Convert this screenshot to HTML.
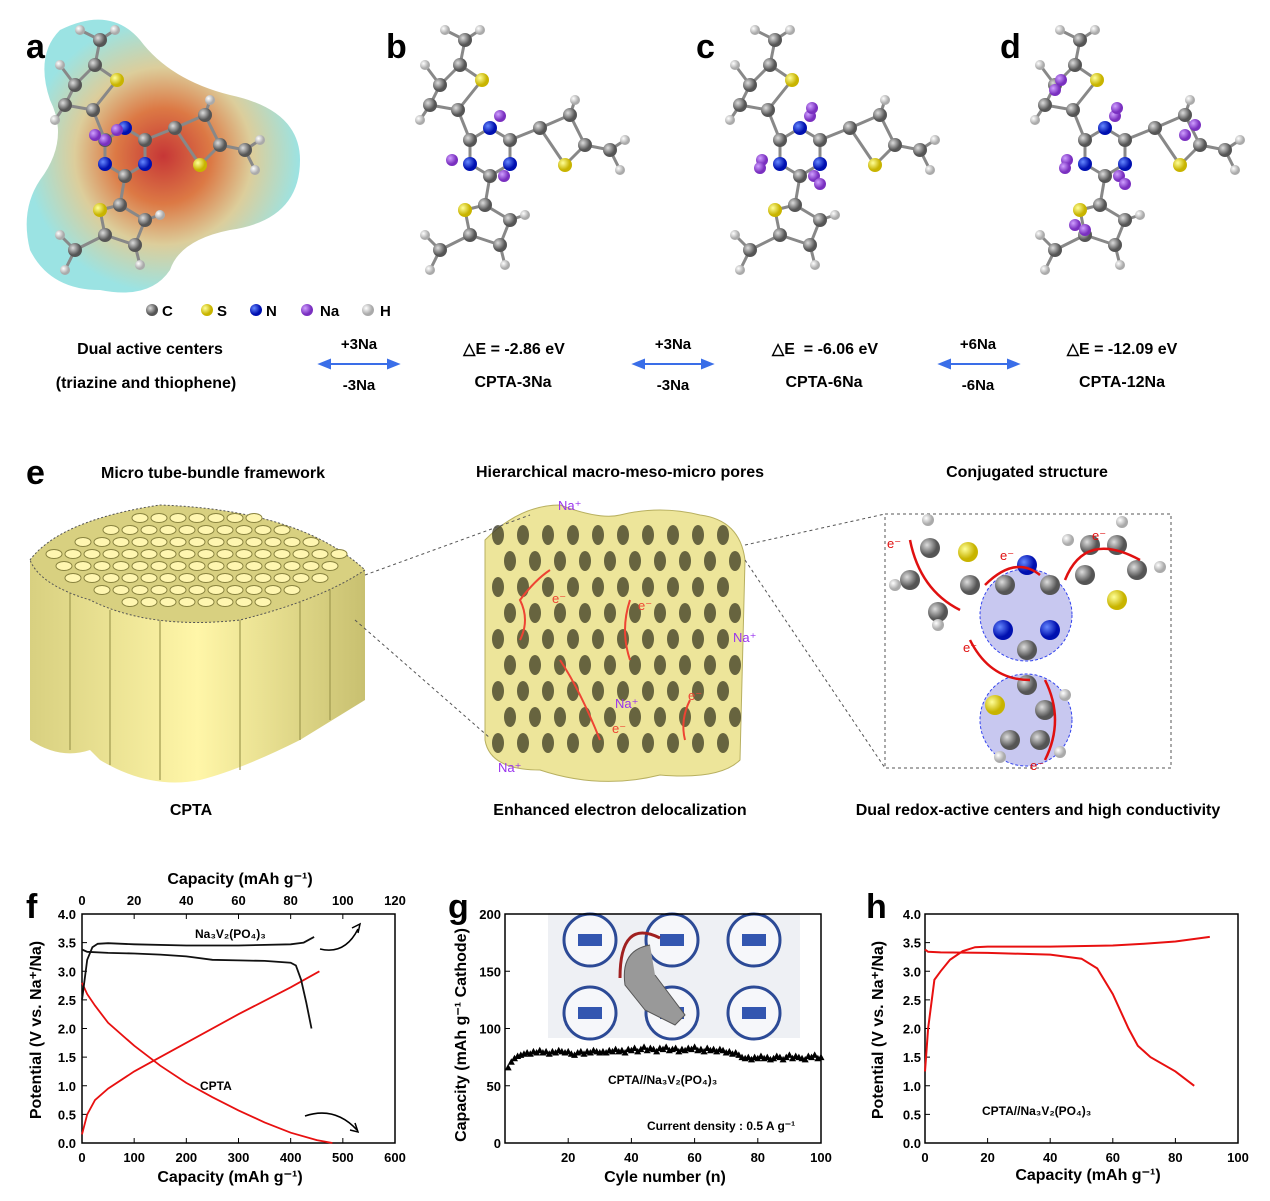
<!DOCTYPE html>
<html><head><meta charset="utf-8"><style>
body{margin:0;background:#fff;}
svg{display:block;font-family:"Liberation Sans",sans-serif;}
.b{font-weight:bold;}
</style></head><body>
<svg id="fig" width="1270" height="1201" viewBox="0 0 1270 1201" xmlns="http://www.w3.org/2000/svg">
<defs>
<radialGradient id="gC" cx="35%" cy="35%"><stop offset="0" stop-color="#ddd"/><stop offset="1" stop-color="#555"/></radialGradient>
<radialGradient id="gS" cx="35%" cy="35%"><stop offset="0" stop-color="#ffff99"/><stop offset="1" stop-color="#c8b400"/></radialGradient>
<radialGradient id="gN" cx="35%" cy="35%"><stop offset="0" stop-color="#6688ff"/><stop offset="1" stop-color="#0010b0"/></radialGradient>
<radialGradient id="gNa" cx="35%" cy="35%"><stop offset="0" stop-color="#d0a0ff"/><stop offset="1" stop-color="#7a30c0"/></radialGradient>
<radialGradient id="gH" cx="35%" cy="35%"><stop offset="0" stop-color="#fff"/><stop offset="1" stop-color="#aaa"/></radialGradient>
<radialGradient id="blob" cx="50%" cy="50%"><stop offset="0" stop-color="#c02020"/><stop offset="0.35" stop-color="#d86a30"/><stop offset="0.65" stop-color="#d8c890"/><stop offset="1" stop-color="#90e0e0"/></radialGradient>
<linearGradient id="cyl" x1="0" x2="1"><stop offset="0" stop-color="#d8d080"/><stop offset="0.5" stop-color="#fff6a8"/><stop offset="1" stop-color="#c8c070"/></linearGradient>
</defs>

<g class="b" font-size="34">
<text x="26" y="58">a</text><text x="386" y="58">b</text><text x="696" y="58">c</text><text x="1000" y="58">d</text>
<text x="26" y="484">e</text><text x="26" y="918">f</text><text x="448" y="918">g</text><text x="866" y="918">h</text>
</g>

<g>
<path d="M60,30 Q110,5 140,40 Q170,80 230,95 Q300,110 300,160 Q300,220 230,230 Q180,240 170,270 Q150,300 100,290 Q50,290 30,250 Q20,210 40,180 Q70,140 50,100 Q35,55 60,30Z" fill="url(#blob)" opacity="0.9"/>
</g>
<g id="bonds" stroke="#888" stroke-width="3"></g>
<g id="mols"></g>

<g font-size="15" class="b">
<circle cx="152" cy="310" r="6" fill="url(#gC)"/><text x="162" y="316">C</text>
<circle cx="207" cy="310" r="6" fill="url(#gS)"/><text x="217" y="316">S</text>
<circle cx="256" cy="310" r="6" fill="url(#gN)"/><text x="266" y="316">N</text>
<circle cx="307" cy="310" r="6" fill="url(#gNa)"/><text x="320" y="316">Na</text>
<circle cx="368" cy="310" r="6" fill="url(#gH)"/><text x="380" y="316">H</text>
</g>

<g font-size="16" class="b">
<text x="150" y="354" text-anchor="middle">Dual active centers</text>
<text x="146" y="388" text-anchor="middle">(triazine and thiophene)</text>
<text x="359" y="349" text-anchor="middle" font-size="15">+3Na</text><text x="359" y="390" text-anchor="middle" font-size="15">-3Na</text>
<text x="514" y="354" text-anchor="middle">△E = -2.86 eV</text><text x="513" y="387" text-anchor="middle">CPTA-3Na</text>
<text x="673" y="349" text-anchor="middle" font-size="15">+3Na</text><text x="673" y="390" text-anchor="middle" font-size="15">-3Na</text>
<text x="825" y="354" text-anchor="middle">△E&#160; = -6.06 eV</text><text x="824" y="387" text-anchor="middle">CPTA-6Na</text>
<text x="978" y="349" text-anchor="middle" font-size="15">+6Na</text><text x="978" y="390" text-anchor="middle" font-size="15">-6Na</text>
<text x="1122" y="354" text-anchor="middle">△E = -12.09 eV</text><text x="1122" y="387" text-anchor="middle">CPTA-12Na</text>
</g>
<g stroke="#3a6ee8" stroke-width="2" fill="#3a6ee8">
<line x1="326" y1="364" x2="392" y2="364"/><path d="M320,364 l10,-4 v8z M398,364 l-10,-4 v8z"/>
<line x1="640" y1="364" x2="706" y2="364"/><path d="M634,364 l10,-4 v8z M712,364 l-10,-4 v8z"/>
<line x1="946" y1="364" x2="1012" y2="364"/><path d="M940,364 l10,-4 v8z M1018,364 l-10,-4 v8z"/>
</g>

<g font-size="16" class="b">
<text x="213" y="478" text-anchor="middle">Micro tube-bundle framework</text>
<text x="620" y="477" text-anchor="middle">Hierarchical macro-meso-micro pores</text>
<text x="1027" y="477" text-anchor="middle">Conjugated structure</text>
<text x="191" y="815" text-anchor="middle">CPTA</text>
<text x="620" y="815" text-anchor="middle">Enhanced electron delocalization</text>
<text x="1038" y="815" text-anchor="middle">Dual redox-active centers and high conductivity</text>
</g>
<g>
<path d="M30,560 L30,740 Q60,760 90,750 L100,760 Q150,790 200,780 Q240,770 300,740 L365,700 L365,570 Q300,510 160,505 Q60,520 30,560Z" fill="url(#cyl)"/>
<g stroke="#a09a50" stroke-width="1.5" opacity="0.8"><line x1="70" y1="590" x2="70" y2="750"/><line x1="110" y1="610" x2="110" y2="765"/><line x1="160" y1="615" x2="160" y2="780"/><line x1="240" y1="600" x2="240" y2="770"/><line x1="300" y1="600" x2="300" y2="740"/><line x1="330" y1="580" x2="330" y2="720"/></g>
<path d="M30,560 Q60,520 160,505 Q300,510 365,570 Q320,600 240,620 Q150,630 90,600 Q40,585 30,560Z" fill="#d8d080" stroke="#555" stroke-dasharray="2,2"/>
<g id="tubeholes" fill="#fff6b0" stroke="#8a8440" stroke-width="1"></g>
</g>
<g>
<path d="M485,540 Q520,505 560,505 Q600,520 620,515 Q660,505 700,515 Q740,520 745,560 L740,760 Q720,780 660,775 Q600,790 540,770 Q490,770 485,740 Z" fill="#ede59a" stroke="#b8b060"/>
<g id="pores" fill="#3a3820"></g>
<g stroke="#ee4433" stroke-width="2" fill="none"><path d="M520,640 q10,-20 0,-40 q15,-20 30,-30"/><path d="M630,600 q-10,30 0,60"/><path d="M560,660 q20,30 40,80"/><path d="M690,700 q-10,20 -5,40"/></g>
<g fill="#ee4433" font-size="13"><text x="552" y="603">e⁻</text><text x="638" y="610">e⁻</text><text x="612" y="733">e⁻</text><text x="688" y="700">e⁻</text></g>
<g fill="#9933ee" font-size="13"><text x="558" y="510">Na⁺</text><text x="733" y="642">Na⁺</text><text x="615" y="708">Na⁺</text><text x="498" y="772">Na⁺</text></g>
</g>
<g stroke="#555" stroke-dasharray="3,3" fill="none">
<line x1="365" y1="575" x2="530" y2="515"/><line x1="355" y1="620" x2="490" y2="738"/>
<line x1="745" y1="545" x2="885" y2="514"/><line x1="745" y1="560" x2="885" y2="768"/>
<rect x="885" y="514" width="286" height="254"/>
</g>
<g>
<circle cx="1026" cy="615" r="46" fill="#c8c8f0" stroke="#3344ee" stroke-dasharray="3,2"/>
<circle cx="1026" cy="720" r="46" fill="#c8c8f0" stroke="#3344ee" stroke-dasharray="3,2"/>
<g id="conj"></g>
<g stroke="#e01010" stroke-width="2.5" fill="none"><path d="M910,540 q10,50 50,70"/><path d="M970,640 q20,40 60,40"/><path d="M985,585 q30,-30 55,-10"/><path d="M1065,580 q20,-50 75,-20"/><path d="M1045,680 q20,40 0,80"/></g>
<g fill="#e01010" font-size="13"><text x="887" y="548">e⁻</text><text x="1000" y="560">e⁻</text><text x="1092" y="540">e⁻</text><text x="963" y="652">e⁻</text><text x="1030" y="770">e⁻</text></g>
</g>

<g id="chartF"></g>
<g id="chartG"></g>
<g id="chartH"></g>
</svg>
<script>
const NS="http://www.w3.org/2000/svg";
function mk(p,tag,a,txt){const e=document.createElementNS(NS,tag);for(const k in a)e.setAttribute(k,a[k]);if(txt!==undefined)e.textContent=txt;p.appendChild(e);return e;}

const fCptaDisX=[0,10,25,50,100,150,200,250,300,350,400,450,480];
const fCptaDisY=[2.8,2.6,2.4,2.1,1.7,1.35,1.05,0.8,0.57,0.36,0.18,0.05,0];
const fCptaChX=[0,10,25,50,100,150,200,300,400,455];
const fCptaChY=[0.15,0.5,0.75,0.95,1.25,1.5,1.75,2.25,2.72,3.0];
const fNvpChX=[0,2,4,6,10,20,40,60,80,85,89];
const fNvpChY=[2.5,3.2,3.42,3.48,3.49,3.47,3.45,3.45,3.47,3.5,3.6];
const fNvpDisX=[0,2,10,20,30,40,50,60,70,80,82,84,86,88];
const fNvpDisY=[3.38,3.34,3.32,3.31,3.29,3.26,3.2,3.19,3.18,3.15,3.1,2.85,2.45,2.0];
const gCapacity=[66,71,74,76,77,78,79,78,80,79,81,79,80,78,80,79,81,80,79,80,78,77,79,80,78,80,79,81,80,79,80,79,81,80,82,80,81,79,82,81,83,80,82,84,81,83,82,80,83,82,84,81,82,83,80,82,81,83,82,84,81,82,80,83,81,82,80,82,81,79,80,78,79,77,75,74,75,73,75,74,76,74,75,73,74,76,75,73,75,77,74,76,75,74,73,76,75,77,74,75];
const hChX=[0,1,3,5,8,12,16,20,40,60,70,80,91];
const hChY=[1.25,2.0,2.85,3.0,3.2,3.35,3.42,3.43,3.43,3.45,3.48,3.52,3.6];
const hDisX=[0,1,5,20,40,50,55,60,65,68,72,80,86];
const hDisY=[3.38,3.34,3.33,3.32,3.29,3.22,3.05,2.6,2.0,1.7,1.5,1.25,1.0];
const fxTicks=["0","100","200","300","400","500","600"];
const fx2Ticks=["0","20","40","60","80","100","120"];
const vTicks=["0.0","0.5","1.0","1.5","2.0","2.5","3.0","3.5","4.0"];
const gyTicks=["0","50","100","150","200"];
const gxTicks=["20","40","60","80","100"];
const hxTicks=["0","20","40","60","80","100"];

function axes(g,x0,x1,y0,y1){
  mk(g,"rect",{x:x0,y:y1,width:x1-x0,height:y0-y1,fill:"none",stroke:"#000","stroke-width":1.5});
}
function path(xs,ys,sx,sy){return xs.map((v,i)=>(i?"L":"M")+sx(v).toFixed(1)+","+sy(ys[i]).toFixed(1)).join("");}

(function(){
 const g=document.getElementById("chartF");
 const X0=82,X1=395,Y0=1143,Y1=914;
 const sx=v=>X0+(X1-X0)*v/600, sx2=v=>X0+(X1-X0)*v/120, sy=v=>Y0-(Y0-Y1)*v/4;
 axes(g,X0,X1,Y0,Y1);
 fxTicks.forEach(t=>{const x=sx(+t);mk(g,"line",{x1:x,x2:x,y1:Y0,y2:Y0-5,stroke:"#000"});const e=mk(g,"text",{x:x,y:Y0+19,"text-anchor":"middle","font-size":13,"font-weight":"bold"},t);});
 fx2Ticks.forEach(t=>{const x=sx2(+t);mk(g,"line",{x1:x,x2:x,y1:Y1,y2:Y1+5,stroke:"#000"});mk(g,"text",{x:x,y:Y1-9,"text-anchor":"middle","font-size":13,"font-weight":"bold"},t);});
 vTicks.forEach(t=>{const y=sy(+t);mk(g,"line",{x1:X0,x2:X0+5,y1:y,y2:y,stroke:"#000"});mk(g,"text",{x:X0-6,y:y+5,"text-anchor":"end","font-size":13,"font-weight":"bold"},t);});
 [[fCptaDisX,fCptaDisY,"#e81010",sx],[fCptaChX,fCptaChY,"#e81010",sx],[fNvpChX,fNvpChY,"#111",sx2],[fNvpDisX,fNvpDisY,"#111",sx2]].forEach(s=>{
  const p=mk(g,"path",{d:path(s[0],s[1],s[3],sy),fill:"none",stroke:s[2],"stroke-width":1.8});
  });
 mk(g,"text",{x:240,y:884,"text-anchor":"middle","font-size":16,"font-weight":"bold"},"Capacity (mAh g⁻¹)");
 mk(g,"text",{x:230,y:1182,"text-anchor":"middle","font-size":16,"font-weight":"bold"},"Capacity (mAh g⁻¹)");
 mk(g,"text",{x:0,y:0,transform:"translate(41,1030) rotate(-90)","text-anchor":"middle","font-size":16,"font-weight":"bold"},"Potential (V vs. Na⁺/Na)");
 mk(g,"text",{x:195,y:938,"font-size":12,"font-weight":"bold"},"Na₃V₂(PO₄)₃");
 mk(g,"text",{x:200,y:1090,"font-size":12,"font-weight":"bold"},"CPTA");
 mk(g,"path",{d:"M320,949 q25,6 38,-20 M352,928 l8,-4 l-2,9",fill:"none",stroke:"#000","stroke-width":1.5});
 mk(g,"path",{d:"M305,1116 q30,-10 52,14 M350,1130 l8,2 l-3,-9",fill:"none",stroke:"#000","stroke-width":1.5});
})();

(function(){
 const g=document.getElementById("chartG");
 const X0=505,X1=821,Y0=1143,Y1=914;
 const sx=v=>X0+(X1-X0)*v/100, sy=v=>Y0-(Y0-Y1)*v/200;
 mk(g,"rect",{x:548,y:913,width:252,height:125,fill:"#eef0f4"});
 [[590,940],[672,940],[754,940],[590,1013],[672,1013],[754,1013]].forEach(c=>{mk(g,"circle",{cx:c[0],cy:c[1],r:26,fill:"#f6f7fa",stroke:"#2c4a96","stroke-width":3});mk(g,"rect",{x:c[0]-12,y:c[1]-6,width:24,height:12,fill:"#3356b0"});});
 mk(g,"path",{d:"M650,945 q-30,5 -25,40 l20,25 l30,15 l10,-10 l-30,-40",fill:"#999",stroke:"#555"});
 mk(g,"path",{d:"M660,938 q-40,-20 -40,40",fill:"none",stroke:"#a02020","stroke-width":3});
 axes(g,X0,X1,Y0,Y1);
 gyTicks.forEach(t=>{const y=sy(+t);mk(g,"line",{x1:X0,x2:X0+5,y1:y,y2:y,stroke:"#000"});mk(g,"text",{x:X0-4,y:y+5,"text-anchor":"end","font-size":13,"font-weight":"bold"},t);});
 gxTicks.forEach(t=>{const x=sx(+t);mk(g,"line",{x1:x,x2:x,y1:Y0,y2:Y0-5,stroke:"#000"});mk(g,"text",{x:x,y:Y0+19,"text-anchor":"middle","font-size":13,"font-weight":"bold"},t);});
 gCapacity.forEach((v,i)=>{const x=sx(i+1),y=sy(v);const m=mk(g,"path",{d:`M${x},${y-3.5}L${x+3.5},${y+3}L${x-3.5},${y+3}Z`,fill:"#000"});});
 mk(g,"text",{x:665,y:1182,"text-anchor":"middle","font-size":16,"font-weight":"bold"},"Cyle number (n)");
 mk(g,"text",{x:0,y:0,transform:"translate(466,1035) rotate(-90)","text-anchor":"middle","font-size":16,"font-weight":"bold"},"Capacity (mAh g⁻¹ Cathode)");
 mk(g,"text",{x:608,y:1084,"font-size":12,"font-weight":"bold"},"CPTA//Na₃V₂(PO₄)₃");
 mk(g,"text",{x:647,y:1130,"font-size":12,"font-weight":"bold"},"Current density : 0.5 A g⁻¹");
})();

(function(){
 const g=document.getElementById("chartH");
 const X0=925,X1=1238,Y0=1143,Y1=914;
 const sx=v=>X0+(X1-X0)*v/100, sy=v=>Y0-(Y0-Y1)*v/4;
 axes(g,X0,X1,Y0,Y1);
 vTicks.forEach(t=>{const y=sy(+t);mk(g,"line",{x1:X0,x2:X0+5,y1:y,y2:y,stroke:"#000"});mk(g,"text",{x:X0-4,y:y+5,"text-anchor":"end","font-size":13,"font-weight":"bold"},t);});
 hxTicks.forEach(t=>{const x=sx(+t);mk(g,"line",{x1:x,x2:x,y1:Y0,y2:Y0-5,stroke:"#000"});mk(g,"text",{x:x,y:Y0+19,"text-anchor":"middle","font-size":13,"font-weight":"bold"},t);});
 [[hChX,hChY],[hDisX,hDisY]].forEach(s=>{const p=mk(g,"path",{d:path(s[0],s[1],sx,sy),fill:"none",stroke:"#e81010","stroke-width":2});});
 mk(g,"text",{x:1088,y:1180,"text-anchor":"middle","font-size":16,"font-weight":"bold"},"Capacity (mAh g⁻¹)");
 mk(g,"text",{x:0,y:0,transform:"translate(883,1030) rotate(-90)","text-anchor":"middle","font-size":16,"font-weight":"bold"},"Potential (V vs. Na⁺/Na)");
 mk(g,"text",{x:982,y:1115,"font-size":12,"font-weight":"bold"},"CPTA//Na₃V₂(PO₄)₃");
})();

function mol(ox,oy,na){
 const g=document.getElementById("mols"), bg=document.getElementById("bonds");
 const atoms=[[0,0,"C"],[20,-12,"N"],[40,0,"C"],[40,24,"N"],[20,36,"C"],[0,24,"N"],
  [-12,-30,"C"],[-30,-55,"C"],[-10,-75,"C"],[12,-60,"S"],[-40,-35,"C"],[-5,-100,"C"],[-50,-20,"H"],[-45,-75,"H"],[10,-110,"H"],[-25,-110,"H"],
  [70,-12,"C"],[100,-25,"C"],[115,5,"C"],[95,25,"S"],[105,-40,"H"],[140,10,"C"],[150,30,"H"],[155,0,"H"],
  [15,65,"C"],[40,80,"C"],[30,105,"C"],[-5,70,"S"],[0,95,"C"],[-30,110,"C"],[55,75,"H"],[35,125,"H"],[-40,130,"H"],[-45,95,"H"]];
 const bonds=[[0,1],[1,2],[2,3],[3,4],[4,5],[5,0],[0,6],[6,10],[10,7],[7,8],[8,9],[9,6],[8,11],[10,12],[7,13],[11,14],[11,15],[2,16],[16,17],[17,18],[18,19],[19,16],[17,20],[18,21],[21,22],[21,23],[4,24],[24,25],[25,26],[26,28],[28,27],[27,24],[25,30],[26,31],[28,29],[29,32],[29,33]];
 bonds.forEach(b=>mk(bg,"line",{x1:ox+atoms[b[0]][0],y1:oy+atoms[b[0]][1],x2:ox+atoms[b[1]][0],y2:oy+atoms[b[1]][1]}));
 atoms.forEach(a=>{const r=a[2]=="H"?5:7;mk(g,"circle",{cx:ox+a[0],cy:oy+a[1],r:r,fill:"url(#g"+a[2]+")"});});
 na.forEach(p=>mk(g,"circle",{cx:ox+p[0],cy:oy+p[1],r:6,fill:"url(#gNa)"}));
}
mol(105,140,[[0,0],[12,-10],[-10,-5]]);
mol(470,140,[[30,-24],[-18,20],[34,36]]);
mol(780,140,[[30,-24],[-18,20],[34,36],[32,-32],[-20,28],[40,44]]);
mol(1085,140,[[30,-24],[-18,20],[34,36],[32,-32],[-20,28],[40,44],[-30,-50],[100,-5],[-10,85],[-24,-60],[110,-15],[0,90]]);
(function(){const g=document.getElementById("tubeholes");for(let r=0;r<8;r++)for(let c=0;c<17;c++){const x=45+c*19+(r%2)*9,y=518+r*12;const t=(x-30)/335;const top=560-Math.sin(t*Math.PI)*55+4,bot=560+Math.sin(t*Math.PI)*60-4;if(y>top&&y<bot)mk(g,"ellipse",{cx:x,cy:y,rx:8,ry:4.5});}})();
(function(){const g=document.getElementById("pores");for(let r=0;r<9;r++)for(let c=0;c<10;c++){mk(g,"ellipse",{cx:498+c*25+(r%2)*12,cy:535+r*26,rx:6,ry:10,opacity:0.75});}})();
(function(){const g=document.getElementById("conj");
 [[910,580,"C"],[930,548,"C"],[968,552,"S"],[970,585,"C"],[938,612,"C"],[895,585,"H"],[928,520,"H"],[938,625,"H"],
  [1005,585,"C"],[1027,565,"N"],[1050,585,"C"],[1050,630,"N"],[1027,650,"C"],[1003,630,"N"],
  [1085,575,"C"],[1090,545,"C"],[1117,545,"C"],[1137,570,"C"],[1117,600,"S"],[1068,540,"H"],[1122,522,"H"],[1160,567,"H"],
  [1027,685,"C"],[1045,710,"C"],[1040,740,"C"],[1010,740,"C"],[995,705,"S"],[1065,695,"H"],[1000,757,"H"],[1060,752,"H"]].forEach(a=>mk(g,"circle",{cx:a[0],cy:a[1],r:a[2]=="H"?6:10,fill:"url(#g"+a[2]+")"}));})();
</script>
</body></html>
